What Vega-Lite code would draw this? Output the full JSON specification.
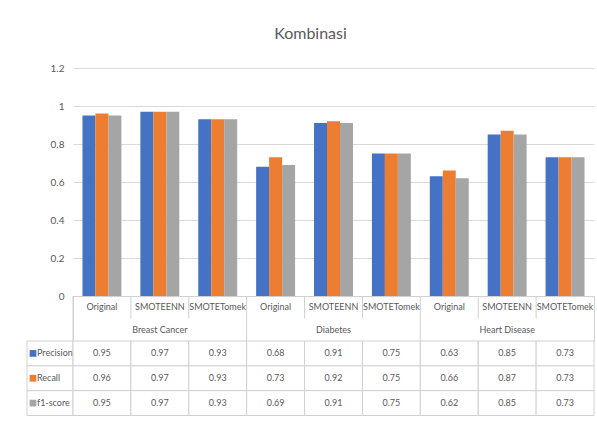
{
  "$schema": "https://vega.github.io/schema/vega-lite/v6.json",
  "background": "white",
  "padding": {"left": 26, "top": 26, "right": 4, "bottom": 4},
  "title": {"text": "Kombinasi", "anchor": "middle", "fontSize": 16, "font": "Lato", "color": "#595959", "fontWeight": "normal", "offset": 21},
  "config": {
    "view": {"stroke": null},
    "text": {"font": "Lato", "fontSize": 9, "color": "#595959"}
  },
  "datasets": {
    "scores": [
      {"dataset": "Breast Cancer", "method": "Original", "cat": "Breast Cancer|Original", "metric": "Precision", "value": 0.95},
      {"dataset": "Breast Cancer", "method": "Original", "cat": "Breast Cancer|Original", "metric": "Recall", "value": 0.96},
      {"dataset": "Breast Cancer", "method": "Original", "cat": "Breast Cancer|Original", "metric": "f1-score", "value": 0.95},
      {"dataset": "Breast Cancer", "method": "SMOTEENN", "cat": "Breast Cancer|SMOTEENN", "metric": "Precision", "value": 0.97},
      {"dataset": "Breast Cancer", "method": "SMOTEENN", "cat": "Breast Cancer|SMOTEENN", "metric": "Recall", "value": 0.97},
      {"dataset": "Breast Cancer", "method": "SMOTEENN", "cat": "Breast Cancer|SMOTEENN", "metric": "f1-score", "value": 0.97},
      {"dataset": "Breast Cancer", "method": "SMOTETomek", "cat": "Breast Cancer|SMOTETomek", "metric": "Precision", "value": 0.93},
      {"dataset": "Breast Cancer", "method": "SMOTETomek", "cat": "Breast Cancer|SMOTETomek", "metric": "Recall", "value": 0.93},
      {"dataset": "Breast Cancer", "method": "SMOTETomek", "cat": "Breast Cancer|SMOTETomek", "metric": "f1-score", "value": 0.93},
      {"dataset": "Diabetes", "method": "Original", "cat": "Diabetes|Original", "metric": "Precision", "value": 0.68},
      {"dataset": "Diabetes", "method": "Original", "cat": "Diabetes|Original", "metric": "Recall", "value": 0.73},
      {"dataset": "Diabetes", "method": "Original", "cat": "Diabetes|Original", "metric": "f1-score", "value": 0.69},
      {"dataset": "Diabetes", "method": "SMOTEENN", "cat": "Diabetes|SMOTEENN", "metric": "Precision", "value": 0.91},
      {"dataset": "Diabetes", "method": "SMOTEENN", "cat": "Diabetes|SMOTEENN", "metric": "Recall", "value": 0.92},
      {"dataset": "Diabetes", "method": "SMOTEENN", "cat": "Diabetes|SMOTEENN", "metric": "f1-score", "value": 0.91},
      {"dataset": "Diabetes", "method": "SMOTETomek", "cat": "Diabetes|SMOTETomek", "metric": "Precision", "value": 0.75},
      {"dataset": "Diabetes", "method": "SMOTETomek", "cat": "Diabetes|SMOTETomek", "metric": "Recall", "value": 0.75},
      {"dataset": "Diabetes", "method": "SMOTETomek", "cat": "Diabetes|SMOTETomek", "metric": "f1-score", "value": 0.75},
      {"dataset": "Heart Disease", "method": "Original", "cat": "Heart Disease|Original", "metric": "Precision", "value": 0.63},
      {"dataset": "Heart Disease", "method": "Original", "cat": "Heart Disease|Original", "metric": "Recall", "value": 0.66},
      {"dataset": "Heart Disease", "method": "Original", "cat": "Heart Disease|Original", "metric": "f1-score", "value": 0.62},
      {"dataset": "Heart Disease", "method": "SMOTEENN", "cat": "Heart Disease|SMOTEENN", "metric": "Precision", "value": 0.85},
      {"dataset": "Heart Disease", "method": "SMOTEENN", "cat": "Heart Disease|SMOTEENN", "metric": "Recall", "value": 0.87},
      {"dataset": "Heart Disease", "method": "SMOTEENN", "cat": "Heart Disease|SMOTEENN", "metric": "f1-score", "value": 0.85},
      {"dataset": "Heart Disease", "method": "SMOTETomek", "cat": "Heart Disease|SMOTETomek", "metric": "Precision", "value": 0.73},
      {"dataset": "Heart Disease", "method": "SMOTETomek", "cat": "Heart Disease|SMOTETomek", "metric": "Recall", "value": 0.73},
      {"dataset": "Heart Disease", "method": "SMOTETomek", "cat": "Heart Disease|SMOTETomek", "metric": "f1-score", "value": 0.73}
    ]
  },
  "columns": 2,
  "spacing": 0,
  "bounds": "flush",
  "concat": [
    {
      "width": 46, "height": 228,
      "data": {"values": [{}]},
      "mark": {"type": "point", "opacity": 0},
      "encoding": {}
    },
    {
      "width": 521, "height": 228,
      "data": {"name": "scores"},
      "mark": {"type": "bar"},
      "encoding": {
        "x": {"field": "cat", "type": "nominal", "axis": null,
              "scale": {"domain": ["Breast Cancer|Original", "Breast Cancer|SMOTEENN", "Breast Cancer|SMOTETomek", "Diabetes|Original", "Diabetes|SMOTEENN", "Diabetes|SMOTETomek", "Heart Disease|Original", "Heart Disease|SMOTEENN", "Heart Disease|SMOTETomek"], "paddingInner": 0, "paddingOuter": 0}},
        "xOffset": {"field": "metric", "type": "nominal",
                    "scale": {"domain": ["Precision", "Recall", "f1-score"], "paddingInner": 0, "paddingOuter": 0.73}},
        "y": {"field": "value", "type": "quantitative",
              "scale": {"domain": [0, 1.2], "nice": false},
              "axis": {"values": [0, 0.2, 0.4, 0.6, 0.8, 1, 1.2], "format": "~g", "grid": true, "gridColor": "#d9d9d9",
                       "domain": false, "ticks": false, "labelPadding": 9, "labelColor": "#595959",
                       "labelFont": "Lato", "labelFontSize": 10, "title": null}},
        "color": {"field": "metric", "type": "nominal", "legend": null,
                  "scale": {"domain": ["Precision", "Recall", "f1-score"], "range": ["#4472C4", "#ED7D31", "#A5A5A5"]}}
      }
    },
    {
      "width": 46, "height": 45,
      "data": {"values": [{}]},
      "mark": {"type": "point", "opacity": 0},
      "encoding": {}
    },
    {
      "width": 521, "height": 45,
      "view": {"stroke": "#d0d0d0"},
      "data": {"name": "scores"},
      "transform": [{"filter": "datum.metric === 'Precision'"}],
      "encoding": {
        "x": {"field": "cat", "type": "nominal", "axis": null,
              "scale": {"domain": ["Breast Cancer|Original", "Breast Cancer|SMOTEENN", "Breast Cancer|SMOTETomek", "Diabetes|Original", "Diabetes|SMOTEENN", "Diabetes|SMOTETomek", "Heart Disease|Original", "Heart Disease|SMOTEENN", "Heart Disease|SMOTETomek"], "paddingInner": 0, "paddingOuter": 0}}
      },
      "layer": [
        {
          "transform": [{"filter": "datum.method === 'Original'"}],
          "mark": {"type": "rule", "color": "#d0d0d0"},
          "encoding": {
            "x": {"field": "cat", "type": "nominal", "bandPosition": 0, "axis": null},
            "y": {"datum": 2, "type": "quantitative", "scale": {"domain": [0, 2], "nice": false}, "axis": null},
            "y2": {"datum": 0}
          }
        },
        {
          "transform": [{"filter": "datum.method !== 'Original'"}],
          "mark": {"type": "rule", "color": "#d0d0d0"},
          "encoding": {
            "x": {"field": "cat", "type": "nominal", "bandPosition": 0, "axis": null},
            "y": {"datum": 2, "type": "quantitative"},
            "y2": {"datum": 1}
          }
        },
        {
          "mark": {"type": "text"},
          "encoding": {
            "y": {"datum": 1.5, "type": "quantitative"},
            "text": {"field": "method"}
          }
        },
        {
          "transform": [{"filter": "datum.method === 'SMOTEENN'"}],
          "mark": {"type": "text"},
          "encoding": {
            "y": {"datum": 0.5, "type": "quantitative"},
            "text": {"field": "dataset"}
          }
        }
      ]
    },
    {
      "width": 46, "height": 74.5,
      "data": {"name": "scores"},
      "transform": [{"filter": "datum.method === 'Original' && datum.dataset === 'Breast Cancer'"}],
      "encoding": {
        "y": {"field": "metric", "type": "nominal", "axis": null,
              "scale": {"domain": ["Precision", "Recall", "f1-score"], "paddingInner": 0, "paddingOuter": 0}}
      },
      "layer": [
        {"mark": {"type": "rect", "fill": "white", "stroke": "#d0d0d0"}},
        {
          "mark": {"type": "point", "shape": "square", "filled": true, "size": 45, "opacity": 1, "xOffset": -17},
          "encoding": {
            "color": {"field": "metric", "type": "nominal", "legend": null,
                      "scale": {"domain": ["Precision", "Recall", "f1-score"], "range": ["#4472C4", "#ED7D31", "#A5A5A5"]}}
          }
        },
        {
          "mark": {"type": "text", "align": "left", "dx": -13},
          "encoding": {"text": {"field": "metric"}}
        }
      ]
    },
    {
      "width": 521, "height": 74.5,
      "data": {"name": "scores"},
      "encoding": {
        "x": {"field": "cat", "type": "nominal", "axis": null,
              "scale": {"domain": ["Breast Cancer|Original", "Breast Cancer|SMOTEENN", "Breast Cancer|SMOTETomek", "Diabetes|Original", "Diabetes|SMOTEENN", "Diabetes|SMOTETomek", "Heart Disease|Original", "Heart Disease|SMOTEENN", "Heart Disease|SMOTETomek"], "paddingInner": 0, "paddingOuter": 0}},
        "y": {"field": "metric", "type": "nominal", "axis": null,
              "scale": {"domain": ["Precision", "Recall", "f1-score"], "paddingInner": 0, "paddingOuter": 0}}
      },
      "layer": [
        {"mark": {"type": "rect", "fill": "white", "stroke": "#d0d0d0"}},
        {"mark": {"type": "text"}, "encoding": {"text": {"field": "value", "format": ".2f"}}}
      ]
    }
  ]
}
